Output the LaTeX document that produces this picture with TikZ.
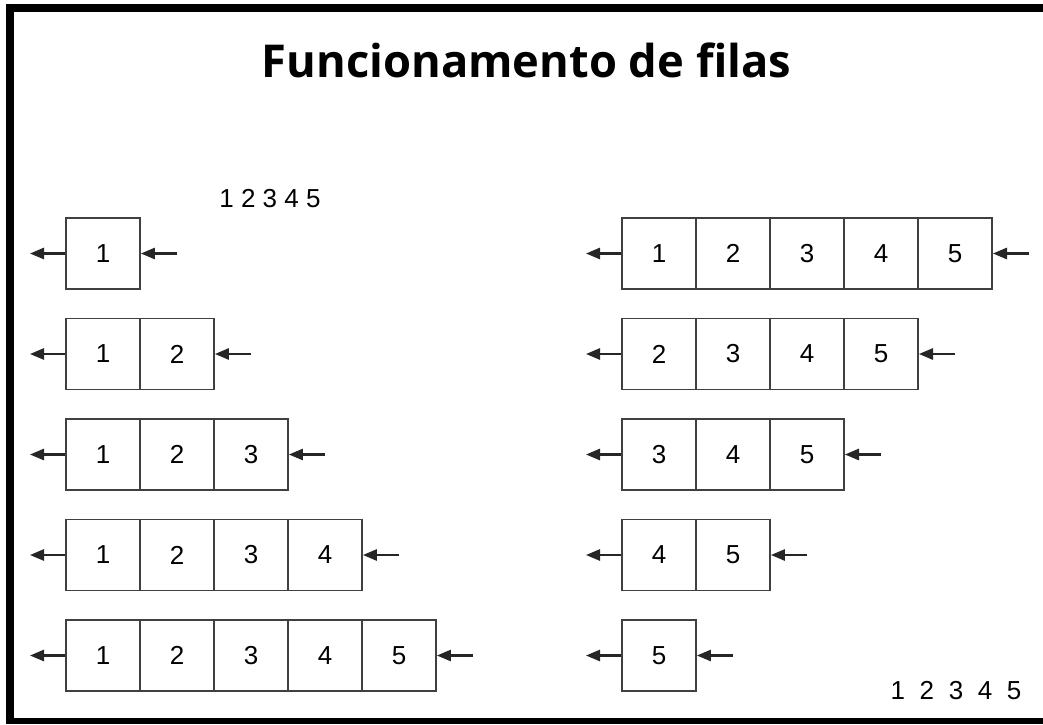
\documentclass[tikz,border=0pt]{standalone}
\usepackage{fontspec}
\setmainfont{Liberation Sans}
\newfontfamily\titlefont{Open Sans}
\usepackage{tikz}
\usetikzlibrary{arrows.meta,positioning}

\tikzset{
  celula/.style={draw=black!75, line width=1.3pt, minimum width=1.85cm,
    minimum height=1.775cm, inner sep=0pt, font=\fontsize{18.5}{20}\selectfont},
  seta/.style={-{Triangle[length=10pt,width=8pt]}, line width=1.5pt, draw=black!85},
  numeros/.style={font=\fontsize{18.5}{20}\selectfont, inner sep=0pt},
}

\begin{document}
\begin{tikzpicture}[x=0.025cm, y=-0.025cm]
\useasboundingbox (0,0) rectangle (1043,724);
% moldura
\fill (6,4) rectangle (1043,12);
\fill (6,4) rectangle (14,724);
\fill (6,718) rectangle (1043,724);

\node[font=\titlefont\bfseries\fontsize{32.2}{38}\selectfont, anchor=base] (titulo) at (526.5,77) {Funcionamento de filas};

\node[numeros] (ordem) at (270,199) {1 2 3 4 5};
\node[numeros] (saida) at (956,691) {1\hspace{10.4pt}2\hspace{10.4pt}3\hspace{10.4pt}4\hspace{10.4pt}5};

% filas da esquerda: entrando
\foreach \fila in {1,...,5}{
  \foreach \pos in {1,...,\fila}{
    \node[celula] (e\fila-\pos) at ({103+74*(\pos-1)},{253.5+100.5*(\fila-1)}) {\pos};
  }
  \coordinate (es\fila) at (30,{253.5+100.5*(\fila-1)});
  \coordinate (ee\fila) at ({103+74*\fila},{253.5+100.5*(\fila-1)});
  \draw[seta] (e\fila-1.west) -- (es\fila);
  \draw[seta] (ee\fila) -- (e\fila-\fila.east);
}

% filas da direita: saindo
\foreach \fila in {1,...,5}{
  \foreach \pos in {\fila,...,5}{
    \node[celula] (d\fila-\pos) at ({659+74*(\pos-\fila)},{253.5+100.5*(\fila-1)}) {\pos};
  }
  \coordinate (ds\fila) at (586,{253.5+100.5*(\fila-1)});
  \coordinate (de\fila) at ({659+74*(6-\fila)},{253.5+100.5*(\fila-1)});
  \draw[seta] (d\fila-\fila.west) -- (ds\fila);
  \draw[seta] (de\fila) -- (d\fila-5.east);
}
\end{tikzpicture}
\end{document}
